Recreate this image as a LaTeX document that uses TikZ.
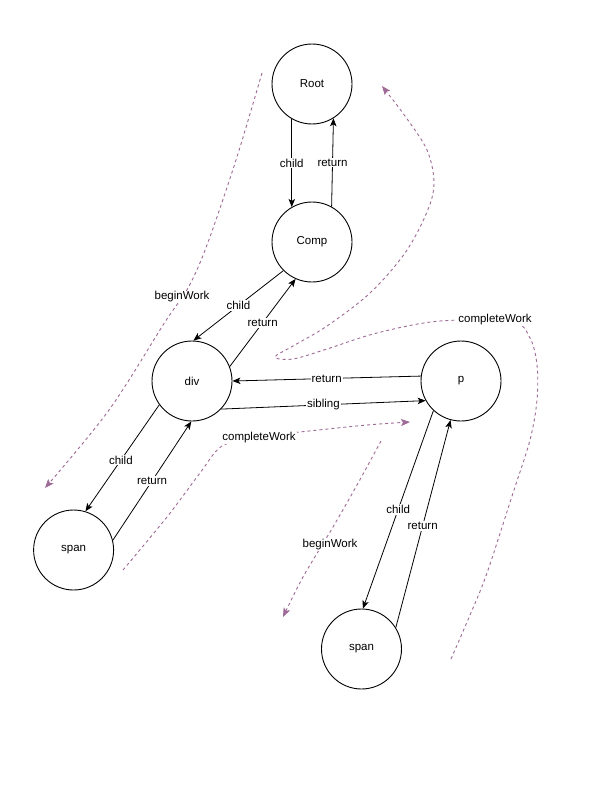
\documentclass[tikz,border=0pt]{standalone}
\usepackage{fontspec}
\setmainfont{Liberation Sans}
\usetikzlibrary{arrows.meta}
\definecolor{wk}{RGB}{158,106,150}
\begin{document}
\begin{tikzpicture}[x=1pt,y=-1pt,
  fnode/.style={circle,draw,line width=0.9pt,minimum size=80pt,inner sep=0pt,font=\fontsize{11.5}{14}\selectfont},
  edge/.style={line width=0.8pt,-{Stealth[length=8pt,width=6.5pt,inset=2pt]}},
  lbl/.style={fill=white,inner sep=1pt,font=\fontsize{11.5}{14}\selectfont},
  flow/.style={wk,line width=0.9pt,dash pattern=on 3pt off 3pt,-{Stealth[length=9pt,width=7pt,inset=2pt]}}]
\useasboundingbox[fill=white] (0,0) rectangle (613,800);

% nodes
\node[fnode] (root) at (312,84) {Root};
\node[fnode] (comp) at (312,242) {Comp};
\node[fnode] (div) at (192,381) {div};
\node[fnode] (p) at (461,381) {p};
\node[fnode] (spanA) at (73.6,550) {span};
\node[fnode] (spanB) at (361.5,649) {span};

% dashed flows
\draw[flow] plot[smooth,tension=0.55] coordinates {(262,73) (236,160) (207,245) (188,288) (165,322) (109,410) (45,488)};
\node[lbl] (bw1) at (182,297) {beginWork};

\draw[flow] plot[smooth,tension=0.55] coordinates {(451,659) (470,615) (487,573) (513,493) (530,440) (537,400) (537,365) (530,338) (512,322) (440,321) (377,333) (327,349) (293,359) (275,357) (293,346) (327,326) (370,293) (405,253) (427,212) (434,183) (427,150) (405,116) (382,86)};
\node[lbl] (cw1) at (495,320) {completeWork};

\draw[flow] plot[smooth,tension=0.5] coordinates {(123,570) (167,517) (200,473) (222,446) (259,437) (300,432) (367,425) (410,422)};
\node[lbl] (cw2) at (259,438) {completeWork};

\draw[flow] plot[smooth,tension=0.5] coordinates {(381,441) (357,485) (333,527) (303,577) (283,617)};
\node[lbl] (bw2) at (330,545) {beginWork};

% edges
\draw[edge] (root.-120) -- node[lbl] {child} (comp.120);
\draw[edge] (comp.61) -- node[lbl] {return} (root.-58);
\draw[edge] (comp.-135) -- node[lbl] {child} (div.88);
\draw[edge] (div.21) -- node[lbl] {return} (comp.-114);
\draw[edge] (p.173) -- node[lbl] {return} (div.0);
\draw[edge] (div.-44) -- node[lbl] {sibling} (p.-151);
\draw[edge] (div.-144) -- node[lbl,pos=0.52] {child} (spanA.73);
\draw[edge] (spanA.14) -- node[lbl] {return} (div.-91);
\draw[edge] (p.-133) -- node[lbl] {child} (spanB.88);
\draw[edge] (spanB.32) -- node[lbl,pos=0.49] {return} (p.-105);
\end{tikzpicture}
\end{document}
